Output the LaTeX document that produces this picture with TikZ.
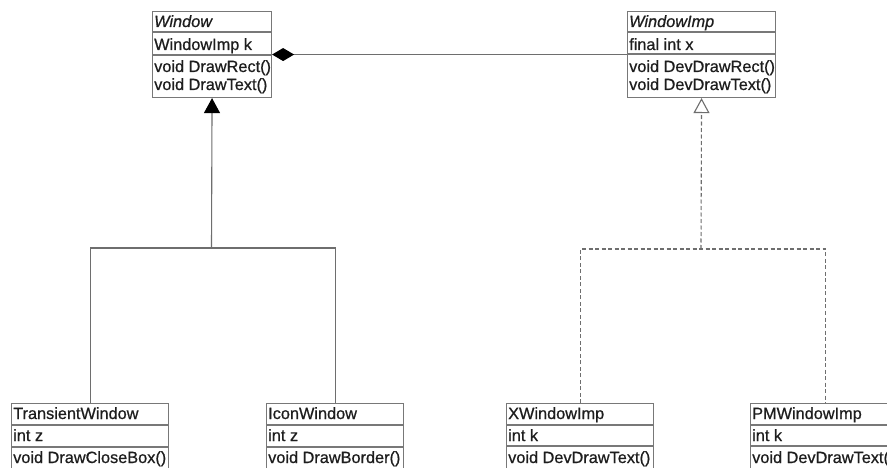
\documentclass[tikz,border=0pt]{standalone}
\usepackage{fontspec}
\setmainfont{Liberation Sans}
\usetikzlibrary{arrows.meta}
\definecolor{boxgray}{RGB}{120,120,120}
\definecolor{linegray}{RGB}{110,110,110}
\definecolor{txtcol}{RGB}{30,30,30}
\begin{document}
\begin{tikzpicture}[x=1pt,y=-1pt,
  box/.style={draw=boxgray, line width=1.1pt, inner sep=0pt, anchor=north west},
  row/.style={draw=boxgray, line width=1.1pt},
  txt/.style={anchor=base west, inner sep=0pt, font=\fontsize{16.3}{18}\selectfont\addfontfeatures{FakeBold=0.7}, text=txtcol},
  ital/.style={txt, font=\fontsize{16.3}{18}\selectfont\itshape\addfontfeatures{FakeBold=0.7}},
  link/.style={draw=linegray, line width=1.1pt},
  dlink/.style={link, dash pattern=on 4pt off 2.5pt}
 ]
\useasboundingbox (0,0) rectangle (887,468);
\fill[white] (0,0) rectangle (887,468);
\clip (0,0) rectangle (887,468);

% Window
\node[box, minimum width=119pt, minimum height=86pt] (win) at (152,11) {};
\draw[row] (152,32) -- (271,32);
\draw[row] (152,55) -- (271,55);
\node[ital] (winT) at (154,27) {Window};
\node[txt] (winA) at (154,50) {WindowImp k};
\node[txt] (winM1) at (154,72) {void DrawRect()};
\node[txt] (winM2) at (154,90) {void DrawText()};

% WindowImp
\node[box, minimum width=148pt, minimum height=86pt] (wimp) at (627,11) {};
\draw[row] (627,32) -- (775,32);
\draw[row] (627,54) -- (775,54);
\node[ital] (wimpT) at (629,27) {WindowImp};
\node[txt] (wimpA) at (629,50) {final int x};
\node[txt] (wimpM1) at (629,72) {void DevDrawRect()};
\node[txt] (wimpM2) at (629,90) {void DevDrawText()};

% TransientWindow
\node[box, minimum width=157pt, minimum height=70pt] (tw) at (11,403) {};
\draw[row] (11,425) -- (168,425);
\draw[row] (11,447) -- (168,447);
\node[txt] (twT) at (13,419) {TransientWindow};
\node[txt] (twA) at (13,441) {int z};
\node[txt] (twM) at (13,463) {void DrawCloseBox()};

% IconWindow
\node[box, minimum width=137pt, minimum height=70pt] (iw) at (266,403) {};
\draw[row] (266,425) -- (403,425);
\draw[row] (266,447) -- (403,447);
\node[txt] (iwT) at (268,419) {IconWindow};
\node[txt] (iwA) at (268,441) {int z};
\node[txt] (iwM) at (268,463) {void DrawBorder()};

% XWindowImp
\node[box, minimum width=147pt, minimum height=70pt] (xw) at (506,403) {};
\draw[row] (506,425) -- (653,425);
\draw[row] (506,446) -- (653,446);
\node[txt] (xwT) at (508,419) {XWindowImp};
\node[txt] (xwA) at (508,441) {int k};
\node[txt] (xwM) at (508,463) {void DevDrawText()};

% PMWindowImp
\node[box, minimum width=150pt, minimum height=70pt] (pw) at (750,403) {};
\draw[row] (750,425) -- (900,425);
\draw[row] (750,446) -- (900,446);
\node[txt] (pwT) at (752,419) {PMWindowImp};
\node[txt] (pwA) at (752,441) {int k};
\node[txt] (pwM) at (752,463) {void DevDrawText()};

% composition
\draw[link, {Diamond[length=22pt,width=13pt,black]}-] (win.east) -- (wimp.west);

% inheritance Window
\coordinate (wj) at (211.5,248);
\draw[link] (tw.north) |- (wj) -| (iw.north);
\draw[link, -{Triangle[length=15pt,width=16pt,black]}] (wj) -- (win.south);

% realization WindowImp
\coordinate (ij) at (701,249);
\draw[dlink] (xw.north) |- (ij) -| (pw.north);
\draw[dlink, -{Triangle[open,length=15pt,width=16pt,fill=white]}] (ij) -- (wimp.south);
\end{tikzpicture}
\end{document}
